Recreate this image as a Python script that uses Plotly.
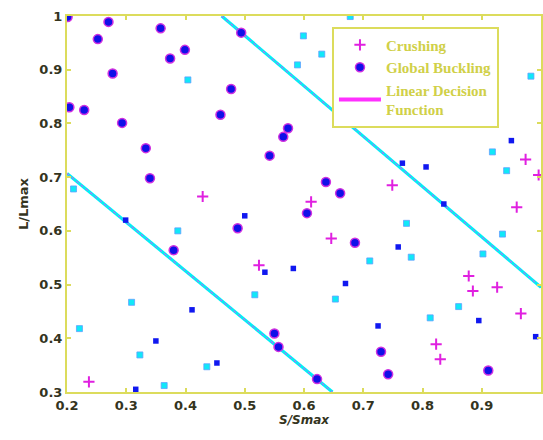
import plotly.graph_objects as go

# ---- data ----
gb_x = [0.201, 0.270, 0.252, 0.358, 0.399, 0.374, 0.277, 0.204, 0.229, 0.293,
        0.459, 0.333, 0.340, 0.494, 0.477, 0.573, 0.565, 0.542, 0.637, 0.661,
        0.380, 0.605, 0.488, 0.686, 0.550, 0.557, 0.622, 0.730, 0.742, 0.911]
gb_y = [0.998, 0.989, 0.957, 0.977, 0.937, 0.921, 0.893, 0.830, 0.825, 0.801,
        0.816, 0.754, 0.698, 0.969, 0.864, 0.791, 0.775, 0.740, 0.691, 0.670,
        0.564, 0.633, 0.605, 0.578, 0.409, 0.384, 0.324, 0.375, 0.333, 0.340]

cr_x = [0.429, 0.749, 0.974, 0.996, 0.237, 0.612, 0.646, 0.524, 0.959, 0.878,
        0.885, 0.926, 0.966, 0.823, 0.830]
cr_y = [0.664, 0.685, 0.733, 0.704, 0.319, 0.654, 0.586, 0.536, 0.644, 0.516,
        0.488, 0.495, 0.446, 0.389, 0.361]

blue_x = [0.766, 0.806, 0.950, 0.836, 0.299, 0.411, 0.350, 0.453, 0.316, 0.500,
          0.534, 0.582, 0.670, 0.725, 0.759, 0.895, 0.991]
blue_y = [0.726, 0.719, 0.768, 0.650, 0.620, 0.453, 0.395, 0.354, 0.305, 0.628,
          0.523, 0.530, 0.502, 0.423, 0.570, 0.433, 0.403]

cyan_x = [0.404, 0.211, 0.678, 0.599, 0.630, 0.589, 0.983, 0.918, 0.942, 0.387,
          0.309, 0.221, 0.323, 0.436, 0.364, 0.711, 0.517, 0.653, 0.773, 0.935,
          0.781, 0.902, 0.861, 0.813]
cyan_y = [0.881, 0.678, 0.999, 0.963, 0.929, 0.909, 0.888, 0.747, 0.712, 0.600,
          0.467, 0.418, 0.369, 0.347, 0.312, 0.544, 0.481, 0.473, 0.614, 0.594,
          0.551, 0.557, 0.459, 0.438]

line1_x = [0.2, 0.648]
line1_y = [0.707, 0.3]
line2_x = [0.461, 1.0]
line2_y = [1.0, 0.495]

x_ticks = [0.2, 0.3, 0.4, 0.5, 0.6, 0.7, 0.8, 0.9, 1.0]
x_labels = ["0.2", "0.3", "0.4", "0.5", "0.6", "0.7", "0.8", "0.9", "1"]
y_ticks = [0.3, 0.4, 0.5, 0.6, 0.7, 0.8, 0.9, 1.0]
y_labels = ["0.3", "0.4", "0.5", "0.6", "0.7", "0.8", "0.9", "1"]

YEL = "#dcdc5c"
TXT = "#34341e"

fig = go.Figure()

for lx, ly in [(line1_x, line1_y), (line2_x, line2_y)]:
    fig.add_trace(go.Scatter(x=lx, y=ly, mode="lines",
                             line=dict(color="#00f0f4", width=3.2),
                             showlegend=False, hoverinfo="skip"))
    fig.add_trace(go.Scatter(x=lx, y=ly, mode="lines",
                             line=dict(color="#ff30ff", width=1, dash="dot"),
                             showlegend=False, hoverinfo="skip"))

fig.add_trace(go.Scatter(x=cyan_x, y=cyan_y, mode="markers",
                         marker=dict(color="#10e8f8", size=6, symbol="square",
                                     line=dict(color="#60a0ff", width=0.8)),
                         showlegend=False))
fig.add_trace(go.Scatter(x=blue_x, y=blue_y, mode="markers",
                         marker=dict(color="#1018f0", size=5.5, symbol="square",
                                     line=dict(width=0)),
                         showlegend=False))

fig.add_trace(go.Scatter(x=cr_x, y=cr_y, mode="markers", name="Crushing",
                         legendrank=1,
                         marker=dict(symbol="cross-thin", size=8,
                                     line=dict(color="#e020e0", width=2))))
fig.add_trace(go.Scatter(x=gb_x, y=gb_y, mode="markers", name="Global Buckling",
                         legendrank=2,
                         marker=dict(symbol="circle", size=9, color="#1010e8",
                                     line=dict(color="#d030e0", width=1.5))))
fig.add_trace(go.Scatter(x=[None], y=[None], mode="lines",
                         name="Linear Decision<br>Function", legendrank=3,
                         line=dict(color="#ff30ff", width=4)))

axis_common = dict(showline=True, linecolor=YEL, linewidth=2, mirror="ticks",
                   ticks="inside", ticklen=4, tickwidth=1.5, tickcolor=YEL,
                   showgrid=False, zeroline=False,
                   tickfont=dict(family="DejaVu Sans", size=13, color=TXT,
                                 weight="bold"))

fig.update_xaxes(range=[0.2, 1.0], tickvals=x_ticks, ticktext=x_labels,
                 title=dict(text="<b><i>S/Smax</i></b>", standoff=4,
                            font=dict(family="DejaVu Sans", size=12, color=TXT)),
                 **axis_common)
fig.update_yaxes(range=[0.3, 1.0], tickvals=y_ticks, ticktext=y_labels,
                 title=dict(text="<b>L/Lmax</b>", standoff=8,
                            font=dict(family="DejaVu Sans", size=13, color=TXT)),
                 **axis_common)

fig.update_layout(
    width=543, height=440,
    margin=dict(l=67, r=0, t=16, b=48),
    paper_bgcolor="white", plot_bgcolor="white",
    font=dict(family="DejaVu Sans"),
    legend=dict(x=0.559, y=0.972, xanchor="left", yanchor="top",
                bgcolor="white", bordercolor=YEL, borderwidth=2,
                font=dict(family="Liberation Serif", size=15, color="#d0d048",
                          weight="bold"),
                itemwidth=42, tracegroupgap=0),
)

fig.write_html("out.html")
